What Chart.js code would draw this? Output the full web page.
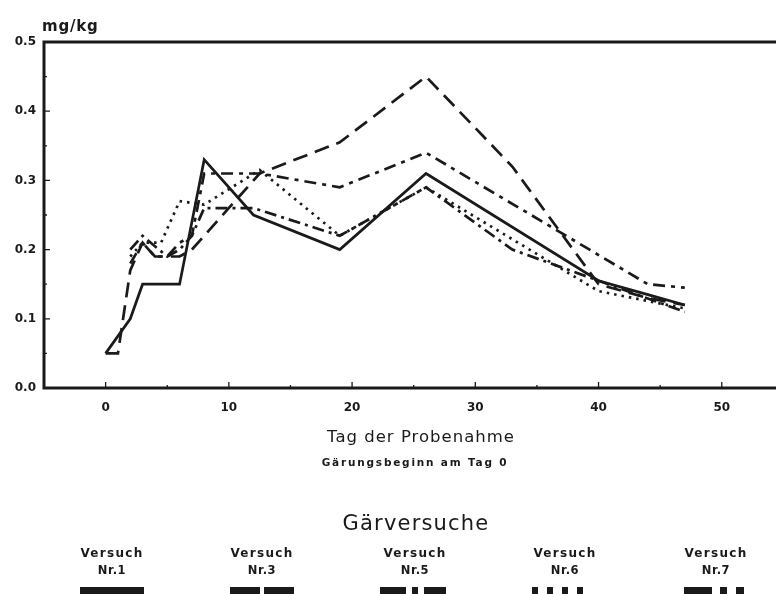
<!DOCTYPE html>
<html>
<head>
<meta charset="utf-8">
<script src="https://cdn.jsdelivr.net/npm/chart.js@4.4.1/dist/chart.umd.min.js"></script>
<style>
  html, body { margin: 0; padding: 0; background: #fff; }
  #wrap { position: relative; width: 776px; height: 594px; overflow: hidden; background: #fff; }
  #c { position: absolute; left: 0; top: 0; }
  .t { position: absolute; white-space: nowrap; line-height: 1; color: #1a1a1a;
       font-family: "DejaVu Sans", "Liberation Sans", sans-serif; transform: translate(-50%, -50%); }
  .sw { position: absolute; background: #1a1a1a; }
</style>
</head>
<body>
<div id="wrap">
  <canvas id="c" width="776" height="594"></canvas>
</div>
<script>
// ---- data ----
const yTicks = [0.0, 0.1, 0.2, 0.3, 0.4, 0.5];
const xTicks = [0, 10, 20, 30, 40, 50];

const seriesNames = ["Nr.1", "Nr.3", "Nr.5", "Nr.6", "Nr.7"];

const daysNr1 = [0, 2, 3, 6, 8, 12, 19, 26, 40, 44, 47];
const valsNr1 = [0.05, 0.10, 0.15, 0.15, 0.33, 0.25, 0.20, 0.31, 0.155, 0.135, 0.12];

const daysNr3 = [0, 1, 2, 3, 4, 6, 7, 12.5, 19, 26, 33, 40, 44, 47];
const valsNr3 = [0.05, 0.05, 0.17, 0.21, 0.19, 0.19, 0.20, 0.31, 0.355, 0.45, 0.32, 0.15, 0.13, 0.12];

const daysNr5 = [2, 3, 4, 5, 6, 7, 8, 12.5, 19, 26, 44, 47];
const valsNr5 = [0.18, 0.21, 0.19, 0.19, 0.21, 0.22, 0.31, 0.31, 0.29, 0.34, 0.15, 0.145];

const daysNr6 = [2, 3, 4.5, 6, 8, 12.5, 19, 26, 40, 47];
const valsNr6 = [0.19, 0.21, 0.21, 0.27, 0.265, 0.315, 0.22, 0.29, 0.14, 0.115];

const daysNr7 = [2, 3, 5, 6, 7, 8, 12, 19, 26, 33, 47];
const valsNr7 = [0.20, 0.22, 0.19, 0.20, 0.22, 0.26, 0.26, 0.22, 0.29, 0.20, 0.11];

// ---- build datasets ----
const ink = '#1a1a1a';
function pts(d, v) { return d.map((x, i) => ({ x: x, y: v[i] })); }
const dashes = [[], [15, 8], [12, 6, 4, 6], [2.5, 5], [12, 5, 3, 5]];
const allDays = [daysNr1, daysNr3, daysNr5, daysNr6, daysNr7];
const allVals = [valsNr1, valsNr3, valsNr5, valsNr6, valsNr7];
const datasets = seriesNames.map((n, i) => ({
  label: n,
  data: pts(allDays[i], allVals[i]),
  borderColor: ink,
  borderWidth: 2.7,
  borderDash: dashes[i],
  borderCapStyle: 'butt',
  pointRadius: 0,
  fill: false,
  tension: 0
}));

const axesPlugin = {
  id: 'axesPlugin',
  afterDatasetsDraw(chart) {
    const { ctx, chartArea: a, scales: { x, y } } = chart;
    ctx.save();
    ctx.strokeStyle = ink;
    ctx.lineWidth = 3;
    ctx.beginPath();
    ctx.moveTo(a.left, a.bottom); ctx.lineTo(a.right + 5, a.bottom);
    ctx.moveTo(a.left, a.bottom + 1.5); ctx.lineTo(a.left, a.top);
    ctx.moveTo(a.left - 1.5, a.top); ctx.lineTo(a.right + 5, a.top);
    ctx.stroke();
    ctx.lineWidth = 1.3;
    ctx.beginPath();
    for (let v = -5; v <= 54; v += 5) {
      const px = x.getPixelForValue(v);
      const len = (v % 10 === 0) ? 6 : 3;
      ctx.moveTo(px, a.bottom); ctx.lineTo(px, a.bottom - len);
    }
    for (let k = 1; k < 10; k++) {
      const v = k * 0.05;
      const py = y.getPixelForValue(v);
      const len = (k % 2 === 0) ? 6 : 3;
      ctx.moveTo(a.left, py); ctx.lineTo(a.left + len, py);
    }
    ctx.stroke();
    ctx.restore();
  }
};

new Chart(document.getElementById('c'), {
  type: 'line',
  data: { datasets: datasets },
  options: {
    responsive: false,
    animation: false,
    devicePixelRatio: 1,
    layout: { padding: { top: 42, right: 0, left: 0, bottom: 0 } },
    plugins: { legend: { display: false }, tooltip: { enabled: false }, title: { display: false } },
    scales: {
      x: {
        type: 'linear', min: -5, max: 54.4,
        afterFit: s => { s.height = 594 - 388; },
        afterBuildTicks: s => { s.ticks = xTicks.map(v => ({ value: v })); },
        grid: { display: false, drawTicks: false },
        border: { display: false },
        ticks: { color: ink, padding: 13, font: { family: 'DejaVu Sans', weight: 'bold', size: 12 } }
      },
      y: {
        type: 'linear', min: 0, max: 0.5,
        afterFit: s => { s.width = 44; },
        afterBuildTicks: s => { s.ticks = yTicks.map(v => ({ value: v })); },
        grid: { display: false, drawTicks: false },
        border: { display: false },
        ticks: { color: ink, padding: 8, font: { family: 'DejaVu Sans', weight: 'bold', size: 12 },
                 callback: v => Number(v).toFixed(1) }
      }
    }
  },
  plugins: [axesPlugin]
});

// ---- text overlays & legend ----
const wrap = document.getElementById('wrap');
function txt(s, cx, cy, size, weight, ls, left) {
  const d = document.createElement('div');
  d.className = 't';
  d.textContent = s;
  d.style.left = cx + 'px';
  d.style.top = cy + 'px';
  d.style.fontSize = size + 'px';
  d.style.fontWeight = weight;
  d.style.letterSpacing = ls + 'px';
  if (left) d.style.transform = 'translate(0, -50%)';
  wrap.appendChild(d);
}
txt('mg/kg', 42, 26, 15, 'bold', 0.8, true);
txt('Tag der Probenahme', 421, 437, 16.5, 'normal', 1, false);
txt('Gärungsbeginn am Tag 0', 415, 462, 10.5, 'bold', 1.8, false);
txt('Gärversuche', 416, 523, 21, 'normal', 1.2, false);

const legendCenters = [112, 262, 415, 565, 716];
seriesNames.forEach((n, i) => {
  txt('Versuch', legendCenters[i], 553, 12, 'bold', 1.3, false);
  txt(n, legendCenters[i], 571, 11.5, 'bold', 0.6, false);
});
// legend swatches: [left, width] pieces, mimicking each line pattern
const swatches = [
  [[80, 64]],
  [[230, 30], [264, 30]],
  [[380, 26], [412, 6], [424, 22]],
  [[532, 6], [547, 6], [562, 6], [577, 6]],
  [[684, 28], [720, 7], [736, 8]]
];
swatches.forEach(parts => parts.forEach(p => {
  const d = document.createElement('div');
  d.className = 'sw';
  d.style.left = p[0] + 'px';
  d.style.width = p[1] + 'px';
  d.style.top = '587px';
  d.style.height = '12px';
  wrap.appendChild(d);
}));
</script>
</body>
</html>
